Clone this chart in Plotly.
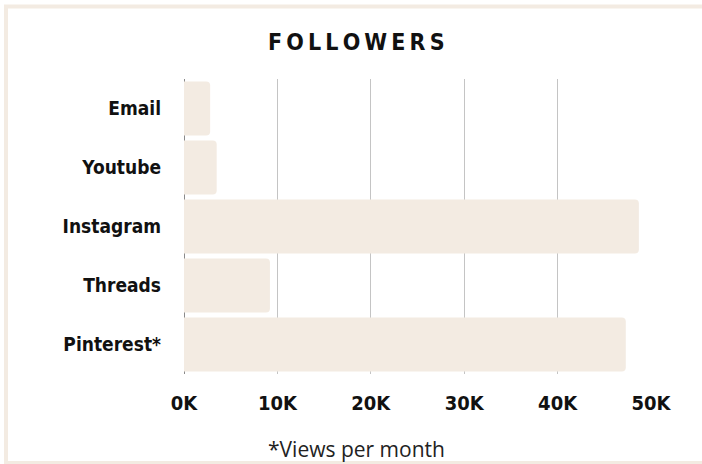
import plotly.graph_objects as go

categories = ["Email", "Youtube", "Instagram", "Threads", "Pinterest*"]
values = [2800, 3500, 48700, 9200, 47300]
tick_vals = [0, 10000, 20000, 30000, 40000, 50000]
tick_text = ["0K", "10K", "20K", "30K", "40K", "50K"]

BEIGE = "#F3EBE2"
FONT = "Noto Sans ExtraCondensed, DejaVu Sans Condensed, sans-serif"

W, H = 702, 464
L, R, T, B = 184, 51, 79, 90
PW, PH = W - L - R, H - T - B


def px(x):
    return (x - L) / PW


def py(y):
    return (H - B - y) / PH


fig = go.Figure(go.Bar(
    x=values, y=categories, orientation="h",
    marker=dict(color=BEIGE, line=dict(width=0)),
    hoverinfo="skip",
))

fig.update_layout(
    width=W, height=H,
    margin=dict(l=L, r=R, t=T, b=B),
    paper_bgcolor="white", plot_bgcolor="white",
    bargap=0.085,
    barcornerradius=4,
    showlegend=False,
    xaxis=dict(range=[0, 50000], tickvals=tick_vals, ticktext=tick_text,
               showgrid=True, gridcolor="#C4C4C4", gridwidth=1.3,
               zeroline=True, zerolinecolor="#8A8A8A", zerolinewidth=1,
               showline=False, ticks="",
               ticklabelstandoff=15, automargin=False,
               tickfont=dict(family=FONT, size=20, color="#111111",
                             weight="bold")),
    yaxis=dict(autorange="reversed", showgrid=False, zeroline=False,
               showline=False, ticks="", ticklabelstandoff=22, automargin=False,
               tickfont=dict(family=FONT, size=19, color="#111111",
                             weight="bold")),
    shapes=[dict(type="rect", xref="paper", yref="paper",
                 x0=px(6), x1=px(712), y0=py(463), y1=py(6.5),
                 line=dict(color=BEIGE, width=4), layer="below")],
    annotations=[
        dict(text="F\u2009O\u2009L\u2009L\u2009O\u2009W\u2009E\u2009R\u2009S",
             xref="paper", yref="paper", x=px(356.5), y=py(42),
             xanchor="center", yanchor="middle", showarrow=False,
             font=dict(family=FONT, size=23, color="#111111",
                       weight="bold")),
        dict(text="*Views per month", xref="paper", yref="paper",
             x=px(356), y=py(449), xanchor="center", yanchor="middle",
             showarrow=False,
             font=dict(family="Open Sans, sans-serif", size=21,
                       color="#222222")),
    ],
)

fig.write_html("out.html", config={"displayModeBar": False},
               post_script="document.body.style.margin='0';document.body.style.overflow='hidden';")
